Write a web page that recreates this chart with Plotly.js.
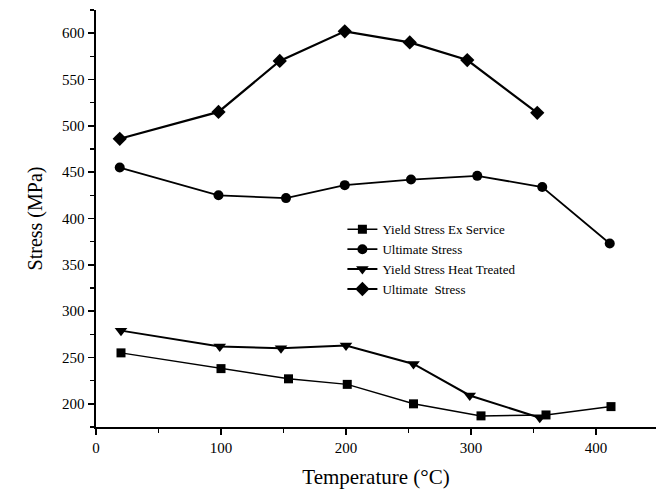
<!DOCTYPE html>
<html>
<head>
<meta charset="utf-8">
<script src="https://cdn.plot.ly/plotly-3.0.1.min.js"></script>
<style>html,body{margin:0;padding:0;background:#fff;}#chart{width:657px;height:490px;}</style>
</head>
<body>
<div id="chart"></div>
<script>
// Yield Stress Ex Service (squares)
const sqX = [20, 100, 154, 201, 254, 308, 360, 412];
const sqY = [255, 238, 227, 221, 200, 187, 188, 197];
// Ultimate Stress (circles)
const ciX = [19, 98, 152, 199, 252, 305, 357, 411];
const ciY = [455, 425, 422, 436, 442, 446, 434, 373];
// Yield Stress Heat Treated (down triangles)
const trX = [20, 99, 148, 200, 254, 299, 355];
const trY = [279, 262, 260, 263, 243, 209, 185];
// Ultimate Stress (diamonds)
const diX = [19, 98, 147, 199, 251, 297, 353];
const diY = [486, 515, 570, 602, 590, 571, 514];

const names = ['Yield Stress Ex Service', 'Ultimate Stress', 'Yield Stress Heat Treated', 'Ultimate  Stress'];

function tr(x, y, name, sym, size, lw) {
  return {
    x: x, y: y, name: name, type: 'scatter', mode: 'lines+markers',
    line: {color: '#000', width: lw},
    marker: {symbol: sym, size: size, color: '#000'}
  };
}

const data = [
  tr(sqX, sqY, names[0], 'square', 9, 1.5),
  tr(ciX, ciY, names[1], 'circle', 10, 1.8),
  tr(trX, trY, names[2], 'triangle-down', 11, 2),
  tr(diX, diY, names[3], 'diamond', 11, 2.2)
];

const serif = 'Liberation Serif, Times New Roman, serif';

const layout = {
  width: 657, height: 490,
  margin: {l: 96, r: 1, t: 10, b: 63},
  paper_bgcolor: '#fff', plot_bgcolor: '#fff',
  showlegend: true,
  legend: {
    x: 0.44, y: 0.51, xanchor: 'left', yanchor: 'top',
    font: {family: serif, size: 13, color: '#000'},
    bgcolor: 'rgba(0,0,0,0)', borderwidth: 0, tracegroupgap: 0
  },
  xaxis: {
    range: [0, 448], showgrid: false, zeroline: false,
    showline: true, linecolor: '#000', linewidth: 2,
    ticks: 'outside', ticklen: 6, tickwidth: 1.5, tickcolor: '#000',
    tickvals: [0, 100, 200, 300, 400],
    minor: {tickvals: [50, 150, 250, 350], ticks: 'outside', ticklen: 4, tickwidth: 1.5, tickcolor: '#000'},
    tickfont: {family: serif, size: 15, color: '#000'},
    title: {text: 'Temperature (°C)', font: {family: serif, size: 21, color: '#000'}, standoff: 14}
  },
  yaxis: {
    range: [175, 625], showgrid: false, zeroline: false,
    showline: true, linecolor: '#000', linewidth: 2.5,
    ticks: 'outside', ticklen: 6, tickwidth: 1.5, tickcolor: '#000',
    tickvals: [200, 250, 300, 350, 400, 450, 500, 550, 600],
    minor: {tickvals: [175, 225, 275, 325, 375, 425, 475, 525, 575, 625], ticks: 'outside', ticklen: 4, tickwidth: 1.5, tickcolor: '#000'},
    tickfont: {family: serif, size: 15, color: '#000'},
    title: {text: 'Stress (MPa)', font: {family: serif, size: 20, color: '#000'}, standoff: 14}
  }
};

Plotly.newPlot('chart', data, layout, {displayModeBar: false, staticPlot: true});
</script>
</body>
</html>
